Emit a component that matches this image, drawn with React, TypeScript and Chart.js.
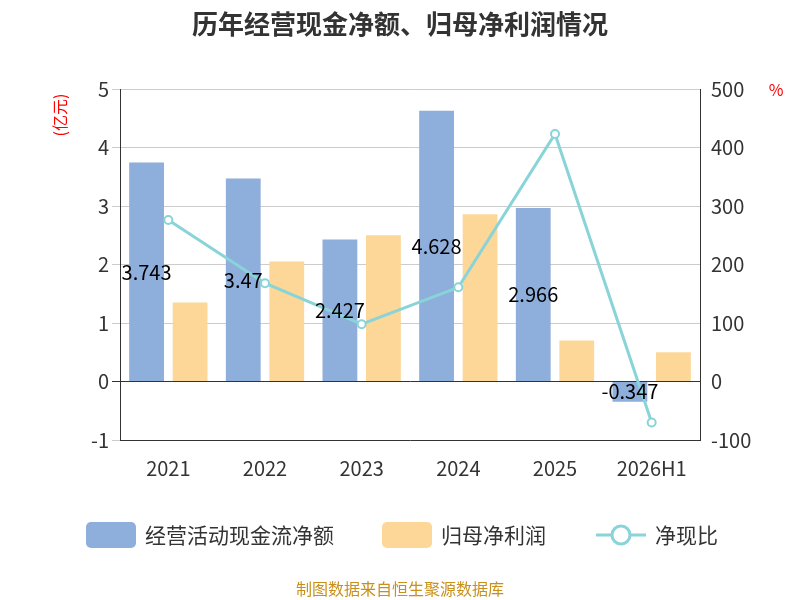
import React, { useEffect, useRef } from "react";
import { Chart, registerables } from "chart.js";
Chart.register(...registerables);

const categories = ["2021", "2022", "2023", "2024", "2025", "2026H1"];
const cashFlow = [3.743, 3.47, 2.427, 4.628, 2.966, -0.347];
const netProfit = [1.35, 2.05, 2.5, 2.86, 0.7, 0.5];
const ratio = [276, 168, 98, 161, 423, -70];
const FONT = "'Noto Sans CJK SC', 'Noto Sans', sans-serif";

const extras = {
  id: "extras",
  afterDatasetsDraw(chart: any) {
    const ctx = chart.ctx;
    const y = chart.scales.y;
    const meta = chart.getDatasetMeta(0);
    ctx.save();
    ctx.font = `20px ${FONT}`;
    ctx.fillStyle = "#000";
    ctx.textAlign = "center";
    ctx.textBaseline = "middle";
    meta.data.forEach((el: any, i: number) => {
      const mid = (y.getPixelForValue(cashFlow[i]) + y.getPixelForValue(0)) / 2;
      ctx.fillText(String(cashFlow[i]), el.x, mid);
    });
    ctx.restore();
  },
  afterDraw(chart: any) {
    const ctx = chart.ctx;
    ctx.save();
    ctx.fillStyle = "#333";
    ctx.font = `bold 26px ${FONT}`;
    ctx.textAlign = "center";
    ctx.textBaseline = "middle";
    ctx.fillText("历年经营现金净额、归母净利润情况", 400, 24);
    ctx.font = `16px ${FONT}`;
    ctx.fillStyle = "#c8901a";
    ctx.fillText("制图数据来自恒生聚源数据库", 400, 589);
    ctx.fillStyle = "red";
    ctx.font = `16px ${FONT}`;
    ctx.fillText("%", 776, 90);
    ctx.translate(60, 115);
    ctx.rotate(-Math.PI / 2);
    ctx.fillText("(亿元)", 0, 0);
    ctx.restore();
    // legend
    ctx.save();
    ctx.font = `21px ${FONT}`;
    ctx.textBaseline = "middle";
    ctx.textAlign = "left";
    const ly = 535;
    const rr = (x: number, c: string) => {
      ctx.fillStyle = c;
      ctx.beginPath();
      (ctx as any).roundRect(x, ly - 13, 50, 26, 5);
      ctx.fill();
    };
    rr(86, "#8eaedb");
    ctx.fillStyle = "#333";
    ctx.fillText("经营活动现金流净额", 145, ly);
    rr(382, "#fdd797");
    ctx.fillStyle = "#333";
    ctx.fillText("归母净利润", 441, ly);
    ctx.strokeStyle = "#89d4d8";
    ctx.lineWidth = 3;
    ctx.beginPath();
    ctx.moveTo(596, ly);
    ctx.lineTo(646, ly);
    ctx.stroke();
    ctx.fillStyle = "#fff";
    ctx.beginPath();
    ctx.arc(621, ly, 9, 0, Math.PI * 2);
    ctx.fill();
    ctx.stroke();
    ctx.fillStyle = "#333";
    ctx.fillText("净现比", 655, ly);
    ctx.restore();
  },
};

export default function App() {
  const ref = useRef<HTMLCanvasElement>(null);
  useEffect(() => {
    const chart = new Chart(ref.current!, {
      type: "bar",
      data: {
        labels: categories,
        datasets: [
          { type: "bar", data: cashFlow, backgroundColor: "#8eaedb", yAxisID: "y", barPercentage: 0.8, categoryPercentage: 0.9, order: 2 },
          { type: "bar", data: netProfit, backgroundColor: "#fdd797", yAxisID: "y", barPercentage: 0.8, categoryPercentage: 0.9, order: 2 },
          { type: "line", data: ratio, borderColor: "#89d4d8", backgroundColor: "#fff", borderWidth: 3, pointRadius: 4, pointBorderWidth: 2, yAxisID: "y1", order: 1 } as any,
        ],
      },
      options: {
        animation: false,
        responsive: false,
        layout: { padding: { top: 89, bottom: 112, left: 72, right: 45 } },
        plugins: { legend: { display: false }, tooltip: { enabled: false } },
        scales: {
          x: {
            grid: { display: false, drawTicks: true },
            border: { color: "#333" },
            ticks: { color: "#333", font: { size: 20, family: FONT }, padding: 8 },
          },
          y: {
            min: -1, max: 5,
            ticks: { stepSize: 1, color: "#333", font: { size: 20, family: FONT } },
            grid: { color: (c: any) => (c.tick.value === 0 ? "#333" : "#ccc"), drawTicks: true, tickLength: 8 },
            border: { color: "#333" },
            afterFit: (s: any) => { s.width = 48; },
          },
          y1: {
            position: "right",
            min: -100, max: 500,
            ticks: { stepSize: 100, color: "#333", font: { size: 20, family: FONT } },
            grid: { display: false },
            border: { color: "#333" },
            afterFit: (s: any) => { s.width = 55; },
          },
        },
      },
      plugins: [extras],
    });
    return () => chart.destroy();
  }, []);
  return (
    <div style={{ position: "fixed", left: 0, top: 0, width: 800, height: 600, background: "#fff" }}>
      <canvas ref={ref} width={800} height={600} style={{ width: 800, height: 600 }} />
    </div>
  );
}
